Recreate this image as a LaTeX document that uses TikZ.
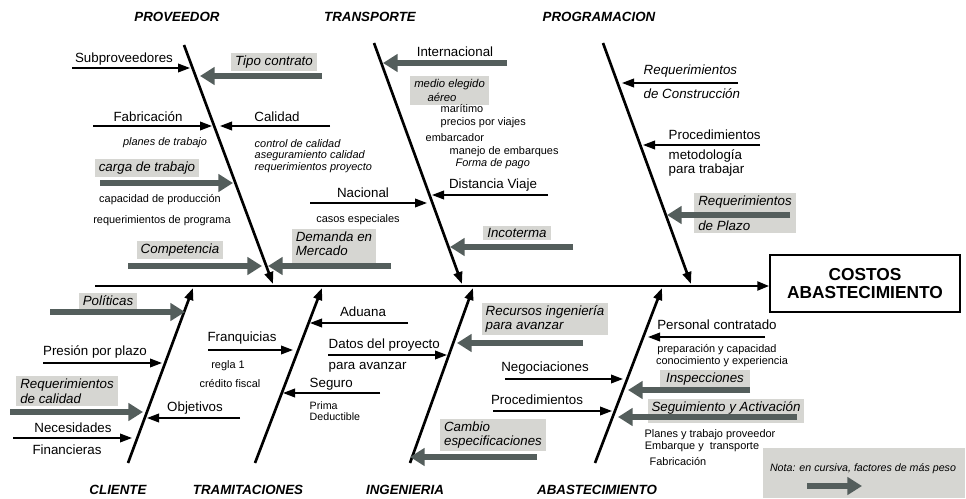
\documentclass[tikz,border=0pt]{standalone}
\usepackage{fontspec}
\setmainfont{Liberation Sans}
\usepackage{tikz}
\usepackage{xcolor}
\usetikzlibrary{arrows.meta}
\definecolor{cajagris}{RGB}{214,214,210}
\definecolor{flechagris}{RGB}{84,94,92}
\tikzset{%
  tipA/.tip={Triangle[width=6.5pt,length=9pt]},
  tipG/.tip={Triangle[width=13pt,length=11pt]},
  fina/.style={black, line width=1.2pt, -tipA},
  gorda/.style={flechagris, line width=4pt, -tipG},
  hueso/.style={black, line width=2pt, -tipA},
  caja/.style={fill=cajagris, inner xsep=3pt, inner ysep=2pt, font=\fontsize{10}{11}\selectfont\itshape},
  chico/.style={font=\fontsize{8.2}{9.5}\selectfont},
  chicoit/.style={font=\fontsize{8.2}{8.7}\selectfont\itshape},
  categ/.style={font=\fontsize{10}{12}\selectfont\bfseries\itshape}
}

\begin{document}
\begin{tikzpicture}[x=0.75pt,y=-0.75pt,font=\fontsize{10}{12}\selectfont]
\useasboundingbox (0,0) rectangle (966,499);
% cabeza y espina
\node[draw, line width=1.5pt, minimum width=142pt, minimum height=42.5pt, align=center,
  font=\fontsize{13}{14}\selectfont\bfseries] (costos) at (865,283.5) {COSTOS\\ABASTECIMIENTO};
\coordinate (cola) at (95,286);
\draw[hueso, line width=2.2pt] (cola) -- (cola -| costos.west);
% espinas
\coordinate (prov1) at (184,45);  \coordinate (prov2) at (273,284);
\coordinate (trans1) at (374,43); \coordinate (trans2) at (462,284);
\coordinate (prog1) at (603,43);  \coordinate (prog2) at (691,284);
\coordinate (cli1) at (128,463);  \coordinate (cli2) at (193,288);
\coordinate (tram1) at (255,463); \coordinate (tram2) at (322,288);
\coordinate (ing1) at (410,463);  \coordinate (ing2) at (473,288);
\coordinate (abas1) at (595,463); \coordinate (abas2) at (662,288);
\foreach \a in {prov,trans,prog,cli,tram,ing,abas}
  \draw[hueso] (\a1) -- (\a2);
\node[categ] (proveedor) at (177,17) {PROVEEDOR};
\node[categ] (transporte) at (370,17) {TRANSPORTE};
\node[categ] (programacion) at (599,17) {PROGRAMACION};
\node[categ] (cliente) at (118,490) {CLIENTE};
\node[categ] (tramitaciones) at (248,490) {TRAMITACIONES};
\node[categ] (ingenieria) at (405,490) {INGENIERIA};
\node[categ] (abastecimiento) at (597,490) {ABASTECIMIENTO};
% cajas grises
\node[caja] (tipo) at (274,62) {Tipo contrato};
\node[caja] (carga) at (147,168) {carga de trabajo};
\node[caja] (compet) at (180,250) {Competencia};
\node[caja, align=left, text depth=5pt] (demanda) at (334,247) {Demanda en\\Mercado};
\node[caja, align=left, anchor=north west, font=\fontsize{8.5}{11}\selectfont\itshape] (medio) at (410,76) {medio elegido\\\hspace{3.5mm}aéreo};
\node[caja] (incot) at (517,233) {Incoterma};
\node[caja, align=left] (reqplazo) at (745,213) {Requerimientos\\[8pt]de Plazo};
\node[caja] (politicas) at (108,301) {Políticas};
\node[caja, align=left] (reqcal) at (67,391) {Requerimientos\\de calidad};
\node[caja, align=left] (recursos) at (545,319) {Recursos ingeniería\\para avanzar};
\node[caja, align=left] (cambio) at (493,435) {Cambio\\especificaciones};
\node[caja, minimum width=67pt] (inspec) at (705,379) {Inspecciones};
\node[caja, minimum width=110pt, text depth=6pt] (seguim) at (726,411) {Seguimiento y Activación};
\node[fill=cajagris, minimum width=151.5pt, minimum height=37.5pt] (nota) at (864,473) {};
% PROVEEDOR
\node (subprov) at (124,59) {Subproveedores};
\coordinate (subprov-a) at (72,68); \coordinate (subprov-b) at (190,68);
\draw[fina] (subprov-a) -- (subprov-b);
\coordinate (tipo-a) at (322,76); \coordinate (tipo-b) at (200,76);
\draw[gorda] (tipo-a) -- (tipo-b);
\node (fabric) at (148,117) {Fabricación};
\coordinate (fabric-a) at (93,126); \coordinate (fabric-b) at (212,126);
\draw[fina] (fabric-a) -- (fabric-b);
\node[chicoit] (planes) at (165,143) {planes de trabajo};
\node (calidad) at (277,117) {Calidad};
\coordinate (calidad-a) at (330,126); \coordinate (calidad-b) at (220,126);
\draw[fina] (calidad-a) -- (calidad-b);
\node[chicoit, align=left, anchor=west] (control) at (250,156)
  {control de calidad\\aseguramiento calidad\\requerimientos proyecto};
\coordinate (carga-a) at (100,183); \coordinate (carga-b) at (233,183);
\draw[gorda] (carga-a) -- (carga-b);
\node[chico] (capac) at (160,200) {capacidad de producción};
\node[chico] (reqprog) at (162,221) {requerimientos de programa};
\coordinate (compet-a) at (128,266); \coordinate (compet-b) at (262,266);
\draw[gorda] (compet-a) -- (compet-b);
\coordinate (demanda-a) at (391,266); \coordinate (demanda-b) at (268,266);
\draw[gorda] (demanda-a) -- (demanda-b);
% TRANSPORTE
\node (internac) at (455,52) {Internacional};
\coordinate (internac-a) at (507,63); \coordinate (internac-b) at (383,63);
\draw[gorda] (internac-a) -- (internac-b);
\node[chico, anchor=west] (maritimo) at (436,109) {marítimo};
\node[chico, anchor=west] (precios) at (436,123) {precios por viajes};
\node[chico, anchor=west] (embarcador) at (421,138) {embarcador};
\node[chico, anchor=west] (manejo) at (445,152) {manejo de embarques};
\node[chicoit, anchor=west] (forma) at (451,164) {Forma de pago};
\node (distancia) at (493,185) {Distancia Viaje};
\coordinate (distancia-a) at (548,195); \coordinate (distancia-b) at (432,195);
\draw[fina] (distancia-a) -- (distancia-b);
\node (nacional) at (363,193) {Nacional};
\coordinate (nacional-a) at (310,203); \coordinate (nacional-b) at (427,203);
\draw[fina] (nacional-a) -- (nacional-b);
\node[chico] (casos) at (358,220) {casos especiales};
\coordinate (incot-a) at (573,247); \coordinate (incot-b) at (450,247);
\draw[gorda] (incot-a) -- (incot-b);
% PROGRAMACION
\node[anchor=west, font=\itshape] (reqcons) at (639,71) {Requerimientos};
\node[anchor=west, font=\itshape] (construc) at (639,94) {de Construcción};
\coordinate (reqcons-a) at (738,83); \coordinate (reqcons-b) at (622,83);
\draw[fina] (reqcons-a) -- (reqcons-b);
\node[anchor=west] (proced) at (664,135) {Procedimientos};
\coordinate (proced-a) at (760,145); \coordinate (proced-b) at (643,145);
\draw[fina] (proced-a) -- (proced-b);
\node[anchor=west, align=left, font=\fontsize{10}{9}\selectfont] (metod) at (664,163) {metodología\\para trabajar};
\coordinate (reqplazo-a) at (790,215); \coordinate (reqplazo-b) at (667,215);
\draw[gorda] (reqplazo-a) -- (reqplazo-b);
% CLIENTE
\coordinate (politicas-a) at (50,312); \coordinate (politicas-b) at (185,312);
\draw[gorda] (politicas-a) -- (politicas-b);
\node (presion) at (95,352) {Presión por plazo};
\coordinate (presion-a) at (43,363); \coordinate (presion-b) at (162,363);
\draw[fina] (presion-a) -- (presion-b);
\coordinate (reqcal-a) at (10,412); \coordinate (reqcal-b) at (143,412);
\draw[gorda] (reqcal-a) -- (reqcal-b);
\node (objetivos) at (195,408) {Objetivos};
\coordinate (objetivos-a) at (240,418); \coordinate (objetivos-b) at (147,418);
\draw[fina] (objetivos-a) -- (objetivos-b);
\node (necesid) at (73,428) {Necesidades};
\coordinate (necesid-a) at (13,438); \coordinate (necesid-b) at (132,438);
\draw[fina] (necesid-a) -- (necesid-b);
\node (financ) at (67,450) {Financieras};
% TRAMITACIONES
\node (franq) at (242,338) {Franquicias};
\coordinate (franq-a) at (208,350); \coordinate (franq-b) at (293,350);
\draw[fina] (franq-a) -- (franq-b);
\node[chico] (regla) at (228,366) {regla 1};
\node[chico] (credito) at (230,384) {crédito fiscal};
\node (aduana) at (363,312) {Aduana};
\coordinate (aduana-a) at (408,323); \coordinate (aduana-b) at (310,323);
\draw[fina] (aduana-a) -- (aduana-b);
\node[anchor=west] (datos) at (324,345) {Datos del proyecto};
\coordinate (datos-a) at (328,355); \coordinate (datos-b) at (447,355);
\draw[fina] (datos-a) -- (datos-b);
\node[anchor=west] (paraav) at (324,367) {para avanzar};
\node[anchor=west] (seguro) at (305,384) {Seguro};
\coordinate (seguro-a) at (380,393); \coordinate (seguro-b) at (283,393);
\draw[fina] (seguro-a) -- (seguro-b);
\node[anchor=west, align=left, font=\fontsize{8}{8.5}\selectfont] (prima) at (305,411) {Prima\\Deductible};
% INGENIERIA
\coordinate (recursos-a) at (583,343); \coordinate (recursos-b) at (457,343);
\draw[gorda] (recursos-a) -- (recursos-b);
\node (negoc) at (545,368) {Negociaciones};
\coordinate (negoc-a) at (505,379); \coordinate (negoc-b) at (623,379);
\draw[fina] (negoc-a) -- (negoc-b);
\node (proced2) at (537,400) {Procedimientos};
\coordinate (proced2-a) at (493,411); \coordinate (proced2-b) at (612,411);
\draw[fina] (proced2-a) -- (proced2-b);
\coordinate (cambio-a) at (537,457); \coordinate (cambio-b) at (410,457);
\draw[gorda] (cambio-a) -- (cambio-b);
% ABASTECIMIENTO
\node (personal) at (717,325) {Personal contratado};
\coordinate (personal-a) at (765,337); \coordinate (personal-b) at (648,337);
\draw[fina] (personal-a) -- (personal-b);
\node[chico] (prepar) at (717,350) {preparación y capacidad};
\node[chico] (conoc) at (722,362) {conocimiento y experiencia};
\coordinate (inspec-a) at (750,390); \coordinate (inspec-b) at (628,390);
\draw[gorda] (inspec-a) -- (inspec-b);
\coordinate (seguim-a) at (797,417); \coordinate (seguim-b) at (618,417);
\draw[gorda] (seguim-a) -- (seguim-b);
\node[chico] (planesprov) at (710,435) {Planes y trabajo proveedor};
\node[chico] (embarque) at (702,447) {Embarque y\ \ transporte};
\node[chico, anchor=west] (fabric2) at (645,462) {Fabricación};
% nota
\node[font=\fontsize{8}{9}\selectfont\itshape] (notatxt) at (863,469) {Nota: en cursiva, factores de más peso};
\coordinate (nota-a) at (807,486); \coordinate (nota-b) at (862,486);
\draw[gorda] (nota-a) -- (nota-b);
\end{tikzpicture}
\end{document}
